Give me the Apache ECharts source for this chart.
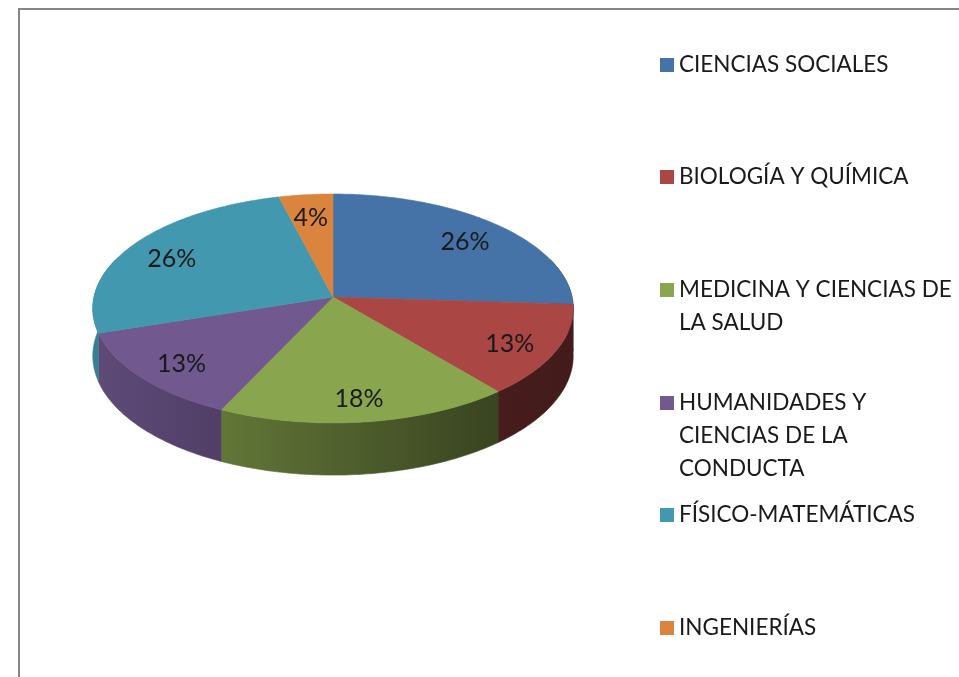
<!DOCTYPE html>
<html>
<head>
<meta charset="utf-8">
<script src="https://cdn.jsdelivr.net/npm/echarts@6/dist/echarts.min.js"></script>
<style>
  html, body { margin: 0; padding: 0; background: #fff; }
  #chart { width: 959px; height: 677px; }
</style>
</head>
<body>
<div id="chart"></div>
<script>
// categories and shares (percent), clockwise from 12 o'clock
var categories = ['CIENCIAS SOCIALES', 'BIOLOGÍA Y QUÍMICA', 'MEDICINA Y CIENCIAS DE LA SALUD',
  'HUMANIDADES Y CIENCIAS DE LA CONDUCTA', 'FÍSICO-MATEMÁTICAS', 'INGENIERÍAS'];
var shares = [26, 13, 18, 13, 26, 4];
var colors = ['#4572A7', '#AA4643', '#89A54E', '#71588F', '#4198AF', '#DB843D'];
// how the legend wraps the long names
var legendLines = {
  'MEDICINA Y CIENCIAS DE LA SALUD': ['MEDICINA Y CIENCIAS DE', 'LA SALUD'],
  'HUMANIDADES Y CIENCIAS DE LA CONDUCTA': ['HUMANIDADES Y', 'CIENCIAS DE LA', 'CONDUCTA']
};
var legendIconY = [65, 177, 290, 403, 515, 628];

(function () {
  'use strict';

  var chart = echarts.init(document.getElementById('chart'));

  var total = shares.reduce(function (a, b) { return a + b; }, 0);

  // 3d pie geometry (simple perspective)
  var cx = 333, cy = 297, rx = 239, ry = 113.3, persp = 0.1, depth = 47;
  var font = 'Lato';
  var LH = 33;

  function proj(deg, r, dz) {
    var a = deg * Math.PI / 180;
    var u = r * Math.sin(a), v = -r * Math.cos(a);
    var k = 1 / (1 - persp * v);
    return [cx + rx * u * k, cy + ry * v * k + dz * k];
  }

  function arc(a0, a1, dz) {
    var pts = [];
    var n = Math.max(2, Math.ceil((a1 - a0) / 1));
    for (var i = 0; i <= n; i++) {
      pts.push(proj(a0 + (a1 - a0) * i / n, 1, dz));
    }
    return pts;
  }

  function shade(hex, f) {
    var c = echarts.color.parse(hex);
    return 'rgb(' + Math.round(c[0] * f) + ',' + Math.round(c[1] * f) + ',' + Math.round(c[2] * f) + ')';
  }

  function wallFill(hex) {
    return {
      type: 'linear', global: true,
      x: cx - rx, y: 0, x2: cx + rx, y2: 0,
      colorStops: [
        { offset: 0, color: shade(hex, 0.84) },
        { offset: 0.28, color: shade(hex, 0.71) },
        { offset: 0.83, color: shade(hex, 0.42) },
        { offset: 1, color: shade(hex, 0.39) }
      ]
    };
  }

  function renderSlice(params, api) {
    var start = api.value(0), val = api.value(1);
    var a0 = start / total * 360, a1 = (start + val) / total * 360;
    var col = colors[params.seriesIndex];
    var children = [];

    // outer wall, only the front part can be seen
    var w0 = Math.max(a0, 70), w1 = Math.min(a1, 290);
    if (w1 > w0) {
      var upper = arc(w0, w1, 0);
      var lower = arc(w0, w1, depth).reverse();
      children.push({
        type: 'polygon', z2: 1,
        shape: { points: upper.concat(lower) },
        style: { fill: wallFill(col), stroke: wallFill(col), lineWidth: 0.6 }
      });
    }

    // top face
    var topPts = [[cx, cy]].concat(arc(a0, a1, 0));
    children.push({
      type: 'polygon', z2: 10,
      shape: { points: topPts },
      style: { fill: col, stroke: col, lineWidth: 0.6 }
    });

    // percent label
    var lp = proj((a0 + a1) / 2, 0.8, 0);
    children.push({
      type: 'text', z2: 20,
      style: {
        text: val + '%', x: lp[0], y: lp[1] + 4,
        align: 'center', verticalAlign: 'middle',
        fontSize: 25, fontFamily: font, fill: '#1a1a1a'
      }
    });
    return { type: 'group', children: children };
  }

  var series = [], legends = [], acc = 0;
  categories.forEach(function (name, i) {
    series.push({
      name: name,
      type: 'custom',
      coordinateSystem: 'none',
      color: colors[i],
      itemStyle: { color: colors[i] },
      renderItem: renderSlice,
      data: [[acc, shares[i]]]
    });
    acc += shares[i];

    var n = (legendLines[name] || [name]).length;
    legends.push({
      data: [name],
      orient: 'vertical',
      left: 660,
      top: legendIconY[i] - (2 * n - 1) * LH / 2,
      padding: 0,
      itemWidth: 14,
      itemHeight: 14,
      icon: 'rect',
      // blank lines in front keep the first line level with the icon
      formatter: function (nm) {
        var lines = legendLines[nm] || [nm];
        var pad = [];
        for (var k = 1; k < lines.length; k++) pad.push(' ');
        return pad.concat(lines).join('\n');
      },
      textStyle: {
        fontFamily: font, fontSize: 22.5, color: '#1a1a1a', lineHeight: LH
      }
    });
  });

  var option = {
    animation: false,
    backgroundColor: '#fff',
    // chart area frame
    graphic: [{
      type: 'rect', silent: true,
      shape: { x: 19, y: 9, width: 980, height: 700 },
      style: { fill: 'none', stroke: '#868686', lineWidth: 2 }
    }],
    legend: legends,
    series: series
  };

  chart.setOption(option);
})();
</script>
</body>
</html>
